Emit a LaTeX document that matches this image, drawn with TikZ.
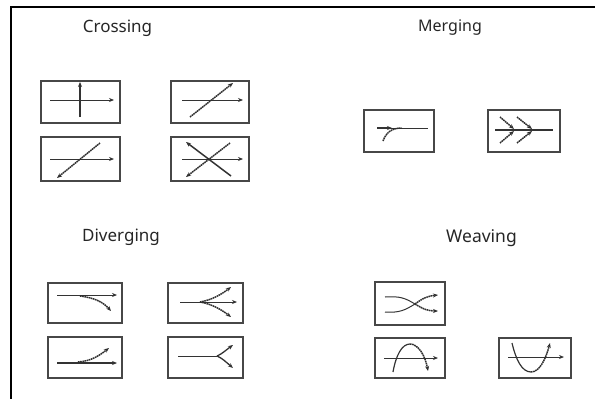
\documentclass[tikz,border=0pt]{standalone}
\usepackage{fontspec}
\setmainfont{Noto Sans}
\usetikzlibrary{arrows.meta}
\tikzset{
  pbox/.style={draw=black!72, line width=1.4pt},
  lane/.style={draw=black!80, line width=1pt},
  hatch/.style={draw=black!82, line width=1.5pt, dash pattern=on 1.6pt off 0.6pt},
  arr/.style={-{Stealth[length=5pt,width=4pt]}},
  title/.style={anchor=base, text=black!85, inner sep=0pt},
}
\begin{document}
\begin{tikzpicture}[x=1pt,y=-1pt]
\useasboundingbox (0,0) rectangle (595,399);
% page frame
\draw[black, line width=1.2pt] (595,7) -- (11,7) -- (11,399);

% headings
\node[title, font=\fontsize{17}{17}\selectfont] (tcross) at (117.5,32.5) {Crossing};
\node[title, font=\fontsize{16}{16}\selectfont] (tmerge) at (450,31.7) {Merging};
\node[title, font=\fontsize{17}{17}\selectfont] (tdiv) at (121,241.7) {Diverging};
\node[title, font=\fontsize{17.5}{17.5}\selectfont] (tweave) at (481.5,242) {Weaving};

% ---- crossing ----
\draw[pbox] (41,81) rectangle (120,123);
\draw[lane,arr] (50,100) -- (114,100);
\draw[lane,line width=1.2pt,arr] (80,117) -- (80,82);

\draw[pbox] (171,81) rectangle (249,123);
\draw[lane,arr] (182,100) -- (243,100);
\draw[hatch,arr] (190,117) -- (233,83);

\draw[pbox] (41,137) rectangle (120,181);
\draw[lane,arr] (50,159) -- (114,159);
\draw[hatch,arr] (100,143) -- (57,178);

\draw[pbox] (171,137) rectangle (249,181);
\draw[lane,arr] (182,159) -- (243,159);
\draw[lane,line width=1.5pt,arr] (231,176) -- (186,142);
\draw[hatch,arr] (230,143) -- (186,177);

% ---- merging ----
\draw[pbox] (364,110) rectangle (434,152);
\draw[lane] (377,128) -- (428,128);
\draw[hatch] (383,141) .. controls (386,133) and (391,128) .. (402,128);
\draw[lane,line width=1.3pt,arr] (377,128) -- (392,128);

\draw[pbox] (488,110) rectangle (560,152);
\draw[lane,line width=1.2pt] (495,130) -- (553,130);
\draw[hatch,arr] (500,117) -- (514,129);
\draw[hatch,arr] (500,143) -- (514,131);
\draw[hatch,arr] (517,117) -- (532,129);
\draw[hatch,arr] (517,143) -- (532,131);

% ---- diverging ----
\draw[pbox] (48,283) rectangle (122,323);
\draw[lane,arr] (57,295) -- (117,295);
\draw[hatch,arr] (80,296) .. controls (95,298) and (103,302) .. (111,311);

\draw[pbox] (168,283) rectangle (243,323);
\draw[lane,arr] (180,302) -- (237,302);
\draw[hatch,arr] (200,302) .. controls (212,300) and (222,294) .. (231,287);
\draw[hatch,arr] (200,302) .. controls (212,304) and (222,310) .. (231,317);

\draw[pbox] (48,337) rectangle (122,378);
\draw[lane,line width=1.2pt,arr] (57,363) -- (117,363);
\draw[hatch,arr] (78,362) .. controls (92,361) and (100,355) .. (109,348);

\draw[pbox] (168,337) rectangle (243,378);
\draw[lane] (178,356) -- (217,356);
\draw[lane,line width=1.3pt,arr] (217,356) .. controls (222,354) and (226,350) .. (233,345);
\draw[lane,line width=1.3pt,arr] (217,356) .. controls (222,358) and (226,362) .. (233,368);

% ---- weaving ----
\draw[pbox] (375,282) rectangle (445,325);
\draw[lane] (385,297) .. controls (400,296) and (405,298) .. (415,304);
\draw[hatch,arr] (415,304) .. controls (423,309) and (428,311) .. (438,311);
\draw[lane] (385,312) .. controls (400,313) and (405,310) .. (415,304);
\draw[hatch,arr] (415,304) .. controls (423,298) and (428,296) .. (438,295);

\draw[pbox] (375,338) rectangle (445,378);
\draw[lane,arr] (384,358) -- (438,358);
\draw[lane,line width=1.2pt] (393,372) .. controls (396,355) and (402,344) .. (410,344);
\draw[hatch,arr] (410,344) .. controls (418,344) and (425,355) .. (428,371);

\draw[pbox] (499,338) rectangle (571,378);
\draw[lane,arr] (508,357) -- (564,357);
\draw[lane,line width=1.2pt] (512,343) .. controls (516,360) and (522,372) .. (531,372);
\draw[hatch,arr] (531,372) .. controls (540,372) and (546,358) .. (550,343);
\end{tikzpicture}
\end{document}
